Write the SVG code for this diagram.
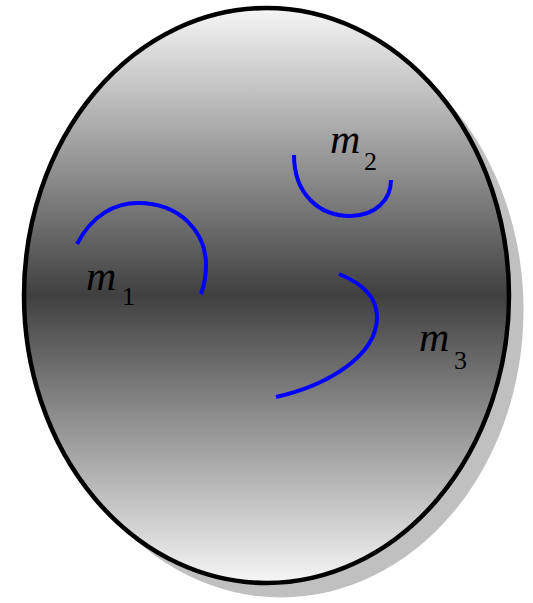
<svg xmlns="http://www.w3.org/2000/svg" width="533" height="603" viewBox="0 0 533 603">
<defs>
<linearGradient id="g" x1="0" y1="0" x2="0" y2="1">
<stop offset="0" stop-color="#f6f6f6"/>
<stop offset="0.5" stop-color="#404040"/>
<stop offset="1" stop-color="#f6f6f6"/>
</linearGradient>
</defs>
<style>
.arc{fill:none;stroke:#0000ff;stroke-width:4}
.lbl{font-family:"Liberation Serif","Times New Roman",serif;fill:#000}
.m{font-style:italic;font-size:42px}
.s{font-size:26px}
</style>
<g id="body">
<ellipse cx="281" cy="310" rx="242.5" ry="287.5" fill="#c0c0c0"/>
<ellipse cx="266.5" cy="295.5" rx="242.5" ry="287.5" fill="url(#g)" stroke="#000" stroke-width="4.5"/>
</g>
<g id="arcs">
<path class="arc" d="M77,244 C92,215 115,203 138,203 C180,203 206,232 206,265 C206,278 204,286 201,294"/>
<path class="arc" d="M294,155 C294,195 320,216 350,216 C375,216 391,200 391,180"/>
<path class="arc" d="M339,274 C364,284 377,298 377,317 C377,357 325,386 276,397"/>
</g>
<g id="m1" class="lbl"><text x="86" y="290" class="m">m</text><text x="122" y="305" class="s">1</text></g>
<g id="m2" class="lbl"><text x="330" y="153" class="m">m</text><text x="364" y="170" class="s">2</text></g>
<g id="m3" class="lbl"><text x="419" y="351" class="m">m</text><text x="454" y="369" class="s">3</text></g>
</svg>
